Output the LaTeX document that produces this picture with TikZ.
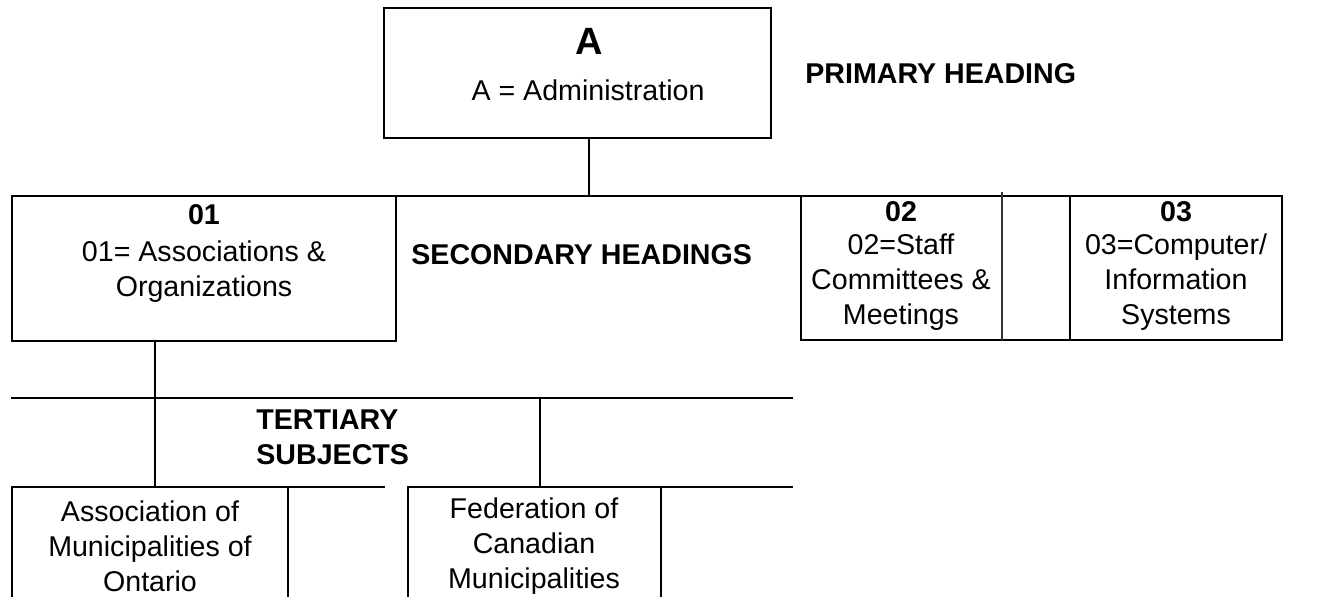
\documentclass[tikz,border=0pt]{standalone}
\usepackage{fontspec}
\setmainfont{Liberation Sans}
\begin{document}
\begin{tikzpicture}[x=0.5pt,y=-0.5pt,
  rule/.style={line width=1.3pt, line cap=rect},
  thinrule/.style={line width=0.6pt, draw=black!80},
  txt/.style={inner sep=0pt, font=\fontsize{14.3}{17.5}\selectfont, align=center},
  btxt/.style={txt, font=\fontsize{14.3}{17.5}\selectfont\bfseries}]
\useasboundingbox (0,0) rectangle (1321,597);

% boxes
\draw[rule] (384,8) rectangle (771,138);
\coordinate (Abot) at (589,138);
\coordinate (Atop) at (589,196);
\draw[rule] (12,196) rectangle (396,341);
\coordinate (O1bot) at (155,341);
\coordinate (O1mid) at (155,487);

% secondary row lines
\draw[rule] (12,196) -- (1282,196);
\draw[rule] (801,196) -- (801,340) -- (1282,340) -- (1282,196);
\draw[rule] (1070,196) -- (1070,340);
\draw[thinrule] (1002,192) -- (1002,340);

% connectors
\draw[rule] (Abot) -- (Atop);
\draw[rule] (O1bot) -- (O1mid);

% tertiary row lines
\draw[rule] (12,398) -- (792,398);
\draw[rule] (540,398) -- (540,487);
\draw[rule] (12,487) -- (384,487);
\draw[rule] (408,487) -- (792,487);
\draw[rule] (12,487) -- (12,597);
\draw[rule] (288,487) -- (288,597);
\draw[rule] (408,487) -- (408,597);
\draw[rule] (661,487) -- (661,597);

% texts
\node[btxt, font=\fontsize{19}{22}\selectfont\bfseries] (tA) at (589,41) {A};
\node[txt] (tAdm) at (588,90) {A = Administration};
\node[btxt, anchor=west] (tPrim) at (805,74) {PRIMARY HEADING};

\node[btxt] (t01) at (204,215) {01};
\node[txt] (t01d) at (204,272) {01= Associations \&\\Organizations};
\node[btxt, anchor=west] (tSec) at (411,255) {SECONDARY HEADINGS};

\node[btxt] (t02) at (901,212) {02};
\node[txt] (t02d) at (901,282) {02=Staff\\Committees \&\\Meetings};
\node[btxt] (t03) at (1176,212) {03};
\node[txt] (t03d) at (1176,282) {03=Computer/\\Information\\Systems};

\node[btxt, align=left, anchor=west] (tTer) at (256,437) {TERTIARY\\SUBJECTS};

\node[txt] (tAMO) at (150,546) {Association of\\Municipalities of\\Ontario};
\node[txt] (tFCM) at (534,546) {Federation of\\Canadian\\Municipalities};
\end{tikzpicture}
\end{document}
